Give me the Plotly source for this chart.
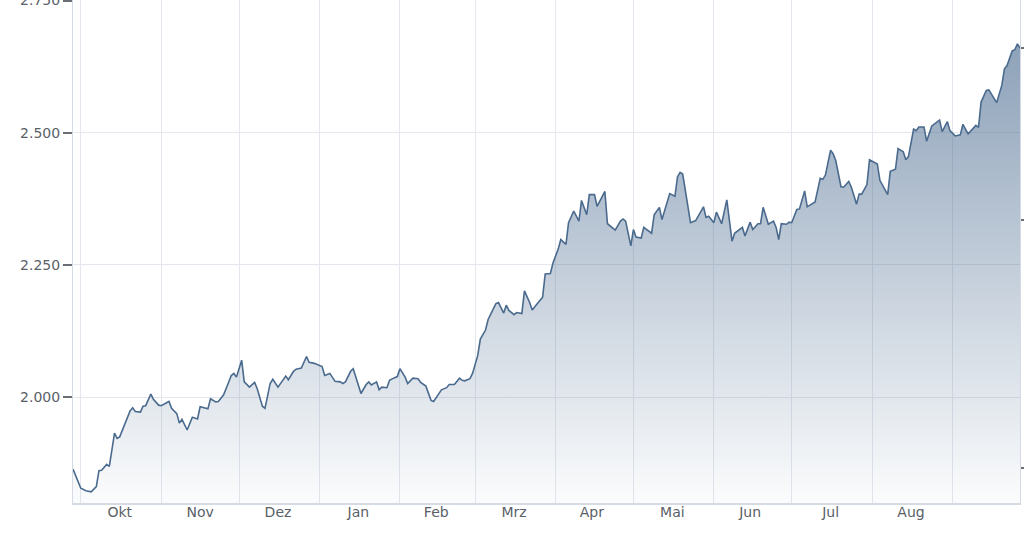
import plotly.graph_objects as go

dates = [
    "2023-09-28", "2023-10-01", "2023-10-03", "2023-10-05", "2023-10-07", "2023-10-08", "2023-10-09",
    "2023-10-11", "2023-10-12", "2023-10-14", "2023-10-15", "2023-10-16", "2023-10-20", "2023-10-21",
    "2023-10-22", "2023-10-24", "2023-10-25", "2023-10-26", "2023-10-28", "2023-10-29", "2023-10-31",
    "2023-11-01", "2023-11-04", "2023-11-05", "2023-11-07", "2023-11-08", "2023-11-09", "2023-11-11",
    "2023-11-13", "2023-11-15", "2023-11-16", "2023-11-19", "2023-11-20", "2023-11-22", "2023-11-23",
    "2023-11-25", "2023-11-26", "2023-11-28", "2023-11-29", "2023-11-30", "2023-12-02", "2023-12-03",
    "2023-12-05", "2023-12-07", "2023-12-08", "2023-12-10", "2023-12-11", "2023-12-13", "2023-12-14",
    "2023-12-16", "2023-12-19", "2023-12-20", "2023-12-22", "2023-12-23", "2023-12-25", "2023-12-27",
    "2023-12-28", "2023-12-30", "2024-01-02", "2024-01-03", "2024-01-05", "2024-01-07", "2024-01-09",
    "2024-01-10", "2024-01-11", "2024-01-13", "2024-01-14", "2024-01-17", "2024-01-19", "2024-01-20",
    "2024-01-21", "2024-01-23", "2024-01-24", "2024-01-25", "2024-01-27", "2024-01-28", "2024-01-30",
    "2024-01-31", "2024-02-01", "2024-02-03", "2024-02-04", "2024-02-06", "2024-02-08", "2024-02-09",
    "2024-02-11", "2024-02-13", "2024-02-14", "2024-02-16", "2024-02-17", "2024-02-19", "2024-02-20",
    "2024-02-22", "2024-02-24", "2024-02-25", "2024-02-26", "2024-02-28", "2024-02-29", "2024-03-02",
    "2024-03-03", "2024-03-05", "2024-03-06", "2024-03-07", "2024-03-09", "2024-03-10", "2024-03-12",
    "2024-03-13", "2024-03-14", "2024-03-16", "2024-03-17", "2024-03-19", "2024-03-20", "2024-03-22",
    "2024-03-23", "2024-03-25", "2024-03-27", "2024-03-28", "2024-03-30", "2024-03-31", "2024-04-02",
    "2024-04-03", "2024-04-05", "2024-04-06", "2024-04-08", "2024-04-10", "2024-04-11", "2024-04-13",
    "2024-04-14", "2024-04-16", "2024-04-17", "2024-04-20", "2024-04-21", "2024-04-24", "2024-04-26",
    "2024-04-27", "2024-04-28", "2024-04-30", "2024-05-01", "2024-05-02", "2024-05-04", "2024-05-05",
    "2024-05-08", "2024-05-09", "2024-05-11", "2024-05-12", "2024-05-15", "2024-05-17", "2024-05-18",
    "2024-05-19", "2024-05-20", "2024-05-23", "2024-05-25", "2024-05-28", "2024-05-29", "2024-05-30",
    "2024-06-01", "2024-06-02", "2024-06-04", "2024-06-06", "2024-06-08", "2024-06-09", "2024-06-12",
    "2024-06-13", "2024-06-15", "2024-06-16", "2024-06-18", "2024-06-19", "2024-06-20", "2024-06-22",
    "2024-06-24", "2024-06-25", "2024-06-26", "2024-06-27", "2024-06-29", "2024-06-30", "2024-07-01",
    "2024-07-03", "2024-07-04", "2024-07-06", "2024-07-07", "2024-07-10", "2024-07-12", "2024-07-13",
    "2024-07-14", "2024-07-16", "2024-07-17", "2024-07-18", "2024-07-20", "2024-07-21", "2024-07-23",
    "2024-07-24", "2024-07-26", "2024-07-27", "2024-07-28", "2024-07-30", "2024-07-31", "2024-08-03",
    "2024-08-04", "2024-08-06", "2024-08-07", "2024-08-08", "2024-08-10", "2024-08-11", "2024-08-13",
    "2024-08-14", "2024-08-15", "2024-08-17", "2024-08-18", "2024-08-19", "2024-08-21", "2024-08-22",
    "2024-08-24", "2024-08-27", "2024-08-28", "2024-08-30", "2024-08-31", "2024-09-02", "2024-09-04",
    "2024-09-05", "2024-09-07", "2024-09-10", "2024-09-11", "2024-09-12", "2024-09-14", "2024-09-15",
    "2024-09-18", "2024-09-20", "2024-09-21", "2024-09-22", "2024-09-24", "2024-09-25", "2024-09-26",
    "2024-09-27",
]

values = [
    1864, 1828, 1823, 1821, 1831, 1861, 1862,
    1873, 1869, 1932, 1922, 1925, 1974, 1980,
    1973, 1972, 1983, 1984, 2006, 1996, 1985,
    1984, 1992, 1979, 1969, 1951, 1958, 1938,
    1962, 1959, 1982, 1978, 1997, 1991, 1992,
    2004, 2016, 2041, 2045, 2038, 2070, 2029,
    2019, 2028, 2016, 1983, 1979, 2026, 2034,
    2019, 2040, 2033, 2049, 2053, 2055, 2077,
    2066, 2064, 2058, 2041, 2045, 2030, 2029,
    2026, 2029, 2049, 2054, 2007, 2024, 2029,
    2023, 2029, 2014, 2019, 2018, 2032, 2037,
    2039, 2054, 2038, 2026, 2036, 2035, 2028,
    2021, 1994, 1992, 2007, 2014, 2018, 2024,
    2024, 2036, 2032, 2031, 2035, 2045, 2079,
    2110, 2127, 2147, 2157, 2177, 2179, 2159,
    2174, 2164, 2156, 2160, 2158, 2201, 2179,
    2165, 2177, 2189, 2233, 2234, 2254, 2280,
    2298, 2289, 2330, 2352, 2333, 2372, 2345,
    2383, 2383, 2361, 2389, 2328, 2316, 2333,
    2337, 2333, 2286, 2317, 2303, 2301, 2321,
    2310, 2345, 2359, 2336, 2385, 2380, 2417,
    2425, 2422, 2330, 2334, 2360, 2340, 2342,
    2330, 2350, 2328, 2373, 2295, 2310, 2321,
    2305, 2331, 2317, 2328, 2328, 2359, 2327,
    2333, 2321, 2298, 2328, 2327, 2331, 2330,
    2355, 2356, 2390, 2360, 2369, 2414, 2412,
    2420, 2467, 2460, 2447, 2398, 2397, 2408,
    2397, 2365, 2384, 2384, 2402, 2449, 2441,
    2410, 2392, 2383, 2427, 2431, 2470, 2464,
    2449, 2455, 2507, 2504, 2511, 2511, 2484,
    2513, 2524, 2502, 2521, 2504, 2494, 2496,
    2516, 2498, 2514, 2510, 2558, 2580, 2581,
    2557, 2590, 2621, 2627, 2655, 2657, 2668,
    2660,
]

month_tick_dates = ["2023-10-16", "2023-11-16", "2023-12-16", "2024-01-16", "2024-02-15",
                    "2024-03-16", "2024-04-15", "2024-05-16", "2024-06-15", "2024-07-16",
                    "2024-08-16"]
month_labels = ["Okt", "Nov", "Dez", "Jan", "Feb", "Mrz", "Apr", "Mai", "Jun", "Jul", "Aug"]

y_ticks = [2000, 2250, 2500, 2750]
right_ticks = [1866, 2335, 2660]

x_range = ["2023-09-28", "2024-09-27"]
y_range = [1800, 2751]

line_color = "#4a6a8e"
grid_color = "#e4e8ee"
axis_line_color = "#d5dbe2"
font = dict(family="DejaVu Sans", size=14, color="#5a5f68")

fig = go.Figure()
fig.add_trace(go.Scatter(
    x=dates, y=values, mode="lines",
    line=dict(color=line_color, width=1.6),
    fill="tozeroy",
    fillgradient=dict(
        type="vertical",
        colorscale=[[0, "rgba(60,95,135,0.02)"], [1, "rgba(60,95,135,0.64)"]],
        start=y_range[0], stop=y_range[1],
    ),
    showlegend=False, hoverinfo="x+y",
))
fig.add_trace(go.Scatter(
    x=dates, y=values, mode="lines", yaxis="y2",
    line=dict(color="rgba(0,0,0,0)", width=0),
    showlegend=False, hoverinfo="skip",
))

fig.update_layout(
    template="none",
    width=1024, height=542,
    margin=dict(l=73, r=4, t=0, b=39, pad=0),
    paper_bgcolor="white", plot_bgcolor="white",
    separators=",.",
    font=font,
    showlegend=False,
    xaxis=dict(
        type="date", range=x_range,
        tickmode="array", tickvals=month_tick_dates, ticktext=month_labels,
        ticks="", showgrid=False, zeroline=False,
        showline=True, linecolor=axis_line_color, linewidth=1.5,
        minor=dict(tickmode="linear", tick0="2023-10-01", dtick="M1",
                   showgrid=True, gridcolor=grid_color, gridwidth=1, ticks=""),
        tickfont=font, automargin=False, ticklabelstandoff=-5,
    ),
    yaxis=dict(
        range=y_range, tickmode="array", tickvals=y_ticks, tickformat=",d",
        ticks="outside", ticklen=9, tickwidth=1.5, tickcolor="#6a6f76",
        showgrid=True, gridcolor=grid_color, gridwidth=1, zeroline=False,
        showline=True, linecolor=axis_line_color, linewidth=1,
        tickfont=font, automargin=False, ticklabeloverflow="allow",
    ),
    yaxis2=dict(
        overlaying="y", side="right", range=y_range,
        tickmode="array", tickvals=right_ticks, showticklabels=False,
        ticks="outside", ticklen=5, tickwidth=1.5, tickcolor="#6a6f76",
        showgrid=False, zeroline=False,
        showline=True, linecolor=axis_line_color, linewidth=1,
        automargin=False,
    ),
)

fig.write_html("out.html", config={"displayModeBar": False},
               post_script="document.body.style.margin='0px';")
